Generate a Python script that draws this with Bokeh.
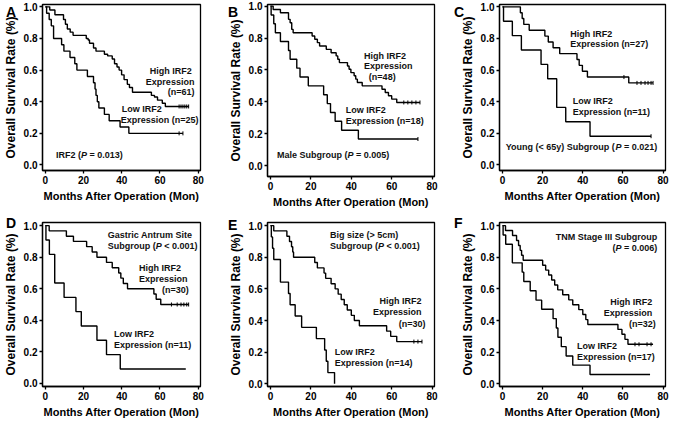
import numpy as np
from bokeh.plotting import figure
from bokeh.layouts import row, column
from bokeh.models import Range1d, FixedTicker, PrintfTickFormatter, Div
from bokeh.core.properties import value
from bokeh.embed import file_html
from bokeh.resources import INLINE

FONT = "Liberation Sans"

# ---------------- data ----------------
x_ticks = [0, 20, 40, 60, 80]
y_ticks = [0.0, 0.2, 0.4, 0.6, 0.8, 1.0]

# Panel A: all patients
A_high_t = [0, 2.3, 5.0, 9.5, 10.5, 11.5, 13.0, 14.5, 21.4, 22.4, 23.1, 25.2, 26.5, 30.9, 32.6, 35.0, 36.2,
            37.5, 38.6, 39.9, 41.2, 42.9, 44.0, 45.6, 55.5, 57.1, 58.7, 61.2, 62.8]
A_high_s = [1.0, 0.98, 0.95, 0.92, 0.89, 0.86, 0.84, 0.82, 0.80, 0.79, 0.77, 0.74, 0.72, 0.70, 0.69, 0.67, 0.64,
            0.62, 0.60, 0.57, 0.54, 0.51, 0.49, 0.46, 0.44, 0.43, 0.41, 0.39, 0.37]
A_high_end = 75
A_high_cens = [70, 71, 72, 73, 74, 75]
A_low_t = [0, 0.65, 2, 3.1, 4.3, 8.5, 9.7, 12.9, 15.4, 16.5, 22, 25.2, 26, 26.5, 27.2, 28, 30.9, 33.4, 39.1, 43.7]
A_low_s = [1, 0.96, 0.92, 0.88, 0.80, 0.76, 0.72, 0.68, 0.64, 0.60, 0.56, 0.52, 0.48, 0.44, 0.40, 0.36, 0.32,
           0.28, 0.24, 0.20]
A_low_end = 72
A_low_cens = [70, 72]

# Panel B: male subgroup
B_high_t = [0, 1.3, 4.9, 8.9, 9.7, 10.5, 11.2, 20.6, 21.9, 23.2, 24.3, 27.6, 30.0, 32.5, 33.3, 34.1, 38.1, 38.9,
            39.8, 41.4, 42.2, 43.0, 45.4, 55.2, 56.8, 58.4, 60.0, 62.5]
B_high_s = [1.0, 0.979, 0.958, 0.917, 0.896, 0.854, 0.833, 0.813, 0.792, 0.771, 0.75, 0.729, 0.708, 0.688, 0.667,
            0.646, 0.625, 0.604, 0.583, 0.563, 0.542, 0.521, 0.50, 0.479, 0.458, 0.438, 0.417, 0.396]
B_high_end = 74
B_high_cens = [66, 68, 70, 72, 74]
B_low_t = [0, 0.3, 1.6, 2.4, 4.9, 8.9, 9.7, 13.0, 14.6, 18.7, 26.3, 28.1, 29.7, 32.0, 35.2, 43.5]
B_low_s = [1, 0.944, 0.889, 0.833, 0.778, 0.722, 0.667, 0.611, 0.556, 0.5, 0.444, 0.389, 0.333, 0.278, 0.222, 0.167]
B_low_end = 73
B_low_cens = [73]

# Panel C: young (< 65y)
C_high_t = [0, 8.9, 9.8, 10.6, 13.3, 21.1, 22.8, 25.2, 28.5, 37.1, 38.2, 39.8, 42.3, 62.9]
C_high_s = [1, 0.963, 0.926, 0.889, 0.852, 0.815, 0.778, 0.741, 0.704, 0.667, 0.63, 0.593, 0.556, 0.519]
C_high_end = 75
C_high_cens = [60.5, 67, 69, 71, 72.5, 74, 75]
C_low_t = [0, 0.5, 4.9, 9.4, 19.2, 22.5, 27.0, 31.5, 43.6]
C_low_s = [1, 0.909, 0.818, 0.727, 0.636, 0.545, 0.364, 0.273, 0.182]
C_low_end = 74
C_low_cens = [74]

# Panel D: gastric antrum site
D_high_t = [0, 2, 11, 14.7, 21.6, 24.5, 27, 32, 35, 38.4, 39.5, 40.8, 43, 56.8, 58, 60.4]
D_high_s = [1, 0.967, 0.933, 0.9, 0.867, 0.833, 0.8, 0.767, 0.733, 0.7, 0.667, 0.633, 0.6, 0.567, 0.533, 0.5]
D_high_end = 75
D_high_cens = [66, 69, 71, 72.5, 74, 75]
D_low_t = [0, 0.3, 2.1, 4.9, 9.8, 16, 18.8, 27, 32, 39.2]
D_low_s = [1, 0.909, 0.818, 0.636, 0.545, 0.455, 0.364, 0.273, 0.182, 0.091]
D_low_end = 73.5
D_low_cens = []

# Panel E: big size (> 5cm)
E_high_t = [0, 1.6, 8.1, 9.4, 10.4, 11.0, 11.4, 21.9, 23.2, 26.5, 27.3, 30, 32, 33.5, 35, 36.5, 38, 40, 41.5,
            44, 57.5, 59.5, 62.5]
E_high_s = [1, 0.967, 0.933, 0.9, 0.867, 0.833, 0.8, 0.767, 0.733, 0.7, 0.667, 0.633, 0.6, 0.567, 0.533, 0.5,
            0.467, 0.433, 0.4, 0.367, 0.333, 0.3, 0.267]
E_high_end = 75
E_high_cens = [71, 73, 75]
E_low_t = [0, 0.4, 1.0, 1.6, 4.9, 8.9, 9.7, 12.2, 15.4, 22.7, 26.8, 27.6, 28.4, 31.7]
E_low_s = [1, 0.929, 0.857, 0.786, 0.643, 0.571, 0.5, 0.429, 0.357, 0.286, 0.214, 0.143, 0.071, 0.0]
E_low_end = 31.7
E_low_cens = []

# Panel F: TNM stage III
F_high_t = [0, 1.5, 5, 7, 8, 8.8, 9.5, 10.3, 20, 21.5, 23, 24.5, 26, 27.5, 30, 33, 35, 38, 40, 41.5, 42.5,
            57.5, 59.5, 61, 62.5]
F_high_s = [1, 0.969, 0.938, 0.906, 0.875, 0.844, 0.813, 0.781, 0.75, 0.719, 0.688, 0.656, 0.625, 0.594, 0.563,
            0.531, 0.5, 0.469, 0.438, 0.406, 0.375, 0.344, 0.313, 0.281, 0.25]
F_high_end = 75
F_high_cens = [66, 68, 72, 74]
F_low_t = [0, 0.3, 1.6, 4.9, 9.8, 10.6, 13.8, 16.7, 19.5, 25.2, 26.8, 27.6, 29.3, 31.7, 35, 43.6]
F_low_s = [1, 0.941, 0.882, 0.765, 0.706, 0.647, 0.588, 0.529, 0.471, 0.412, 0.353, 0.294, 0.235, 0.176, 0.118,
           0.059]
F_low_end = 73.5
F_low_cens = []

X0, X1 = -1.5, 81.2

# ---------------- helpers ----------------
# Arial/Liberation Sans Bold advance widths (per 1000 em)
W = {" ": 278, "(": 333, ")": 333, "=": 584, "<": 584, ">": 584, ".": 278, "P": 667, "I": 278, "R": 722,
     "F": 611, "M": 833, "a": 556, "l": 278, "e": 556, "S": 667, "u": 611, "b": 611, "g": 611, "r": 389,
     "o": 611, "p": 611, "Y": 667, "n": 611, "y": 556, "i": 278, "s": 556, "z": 500, "c": 556, "m": 889}
for d in "0123456789":
    W[d] = 556


def tw(s, size):
    return sum(W.get(ch, 556) for ch in s) * size / 1000.0


TS = 9  # annotation font size (px)


def add_text(p, x, y, s, align):
    p.text(x=[x], y=[y], text=[s], text_font=value(FONT), text_font_style="bold",
           text_font_size=f"{TS}px", text_align=align, text_baseline="middle", text_color="#111111")


def add_pline(p, x, y, pre, post, align):
    post_s = post.lstrip(" ")
    w_pre = tw(pre, TS)
    w_p = tw("P", TS)
    w_gap = tw(post[: len(post) - len(post_s)], TS)
    total = w_pre + w_p + w_gap + tw(post_s, TS)
    start = 0 if align == "left" else -total
    parts = [(pre, start, "bold"), ("P", start + w_pre, "bold italic"),
             (post_s, start + w_pre + w_p + w_gap, "bold")]
    for s, off, style in parts:
        p.text(x=[x], y=[y], text=[s], x_offset=off, text_font=value(FONT), text_font_style=style,
               text_font_size=f"{TS}px", text_align="left", text_baseline="middle", text_color="#111111")


def add_curve(p, t, s, end, cens):
    xs = list(t) + [end]
    ys = list(s) + [s[-1]]
    p.step(x=xs, y=ys, mode="after", line_color="black", line_width=1.4)
    if cens:
        ta = np.array(t)
        sa = np.array(s)
        cy = [sa[np.searchsorted(ta, c, side="right") - 1] for c in cens]
        p.scatter(x=cens, y=cy, marker="dash", angle=np.pi / 2, size=4, line_color="black", line_width=1)


def make_panel(width, height, bl, br, bt, bb, y0, y1, curves, texts, plines):
    p = figure(width=width, height=height, output_backend="svg", toolbar_location=None,
               x_range=Range1d(X0, X1), y_range=Range1d(y0, y1),
               min_border_left=bl, min_border_right=br, min_border_top=bt, min_border_bottom=bb)
    p.background_fill_color = "white"
    p.border_fill_color = "white"
    p.outline_line_color = "black"
    p.outline_line_width = 1.3
    p.outline_line_alpha = 1.0
    p.grid.visible = False
    p.xaxis.ticker = FixedTicker(ticks=x_ticks)
    p.yaxis.ticker = FixedTicker(ticks=y_ticks)
    p.yaxis.formatter = PrintfTickFormatter(format="%.1f")
    for ax in (p.xaxis[0], p.yaxis[0]):
        ax.axis_line_width = 1.3
        ax.axis_line_color = "black"
        ax.major_tick_line_width = 1.3
        ax.major_tick_line_color = "black"
        ax.major_tick_out = 3
        ax.major_tick_in = 0
        ax.minor_tick_out = 0
        ax.minor_tick_in = 0
        ax.major_label_standoff = 2
        ax.major_label_text_font = FONT
        ax.major_label_text_font_style = "bold"
        ax.major_label_text_font_size = "10px"
        ax.major_label_text_color = "black"
        ax.axis_label_text_font = FONT
        ax.axis_label_text_font_style = "bold"
        ax.axis_label_text_color = "black"
        ax.axis_label_standoff = 3
    p.xaxis.axis_label = "Months After Operation (Mon)"
    p.xaxis.axis_label_text_font_size = "11px"
    p.yaxis.axis_label = "Overall Survival Rate (%)"
    p.yaxis.axis_label_text_font_size = "12px"

    for c in curves:
        add_curve(p, *c)
    for (s, x, y, align) in texts:
        add_text(p, x, y, s, align)
    for (pre, post, x, y, align) in plines:
        add_pline(p, x, y, pre, post, align)
    return p


def letter_div(letter, left, top):
    return Div(text=letter, width=16, height=16,
               styles={"position": "absolute", "left": f"{left}px", "top": f"{top}px", "z-index": "10",
                       "font-family": FONT, "font-weight": "bold", "font-size": "14px", "line-height": "14px",
                       "color": "black"})


pA = make_panel(222, 210, 36, 22, 4, 40, -0.035, 1.015,
                [(A_high_t, A_high_s, A_high_end, A_high_cens), (A_low_t, A_low_s, A_low_end, A_low_cens)],
                [("High IRF2", 65.6, 0.596, "center"), ("Expression", 65.3, 0.524, "center"),
                 ("(n=61)", 78.1, 0.46, "right"), ("Low IRF2", 40, 0.356, "left"),
                 ("Expression (n=25)", 39.5, 0.286, "left")],
                [("IRF2 (", " = 0.013)", 5.6, 0.062, "left")])

pD = make_panel(222, 210, 36, 22, 12, 33, -0.02, 1.02,
                [(D_high_t, D_high_s, D_high_end, D_high_cens), (D_low_t, D_low_s, D_low_end, D_low_cens)],
                [("Gastric Antrum Site", 32.7, 0.939, "left"), ("High IRF2", 49, 0.73, "left"),
                 ("Expression", 49, 0.663, "left"), ("(n=30)", 75.1, 0.592, "right"),
                 ("Low IRF2", 35.9, 0.312, "left"), ("Expression (n=11)", 35.9, 0.245, "left")],
                [("Subgroup (", " < 0.001)", 32.7, 0.873, "left")])

pB = make_panel(222, 214, 45, 10, 4, 38, -0.068, 1.01,
                [(B_high_t, B_high_s, B_high_end, B_high_cens), (B_low_t, B_low_s, B_low_end, B_low_cens)],
                [("High IRF2", 46.3, 0.69, "left"), ("Expression", 46.3, 0.624, "left"),
                 ("(n=48)", 48.7, 0.554, "left"), ("Low IRF2", 37.3, 0.349, "left"),
                 ("Expression (n=18)", 37.3, 0.281, "left")],
                [("Male Subgroup (", " = 0.005)", 3.2, 0.066, "left")])

pE = make_panel(222, 206, 45, 10, 8, 33, -0.017, 1.02,
                [(E_high_t, E_high_s, E_high_end, E_high_cens), (E_low_t, E_low_s, E_low_end, E_low_cens)],
                [("Big size (> 5cm)", 29.4, 0.94, "left"), ("High IRF2", 74.8, 0.522, "right"),
                 ("Expression", 74.8, 0.451, "right"), ("(n=30)", 76.7, 0.379, "right"),
                 ("Low IRF2", 31.8, 0.202, "left"), ("Expression (n=14)", 31.8, 0.131, "left")],
                [("Subgroup (", " < 0.001)", 29.4, 0.87, "left")])

pC = make_panel(225, 210, 55, 4, 4, 40, -0.035, 1.015,
                [(C_high_t, C_high_s, C_high_end, C_high_cens), (C_low_t, C_low_s, C_low_end, C_low_cens)],
                [("High IRF2", 33.8, 0.831, "left"), ("Expression (n=27)", 33.8, 0.763, "left"),
                 ("Low IRF2", 35, 0.402, "left"), ("Expression (n=11)", 35, 0.336, "left")],
                [("Young (< 65y) Subgroup (", " = 0.021)", 1.6, 0.113, "left")])

pF = make_panel(225, 210, 55, 4, 12, 33, -0.017, 1.02,
                [(F_high_t, F_high_s, F_high_end, F_high_cens), (F_low_t, F_low_s, F_low_end, F_low_cens)],
                [("TNM Stage III Subgroup", 77.1, 0.928, "right"), ("High IRF2", 74.6, 0.52, "right"),
                 ("Expression", 74.6, 0.45, "right"), ("(n=32)", 76.4, 0.38, "right"),
                 ("Low IRF2", 37.1, 0.24, "left"), ("Expression (n=17)", 37.1, 0.168, "left")],
                [("(", " = 0.006)", 77.1, 0.86, "right")])

layout = row(column(pA, pD, letter_div("A", 1, 0), letter_div("D", 1, 211)),
             column(pB, pE, letter_div("B", 1, 0), letter_div("E", 1, 213)),
             column(pC, pF, letter_div("C", 5, 0), letter_div("F", 5, 211)))

open("out.html", "w").write(file_html(layout, INLINE))
